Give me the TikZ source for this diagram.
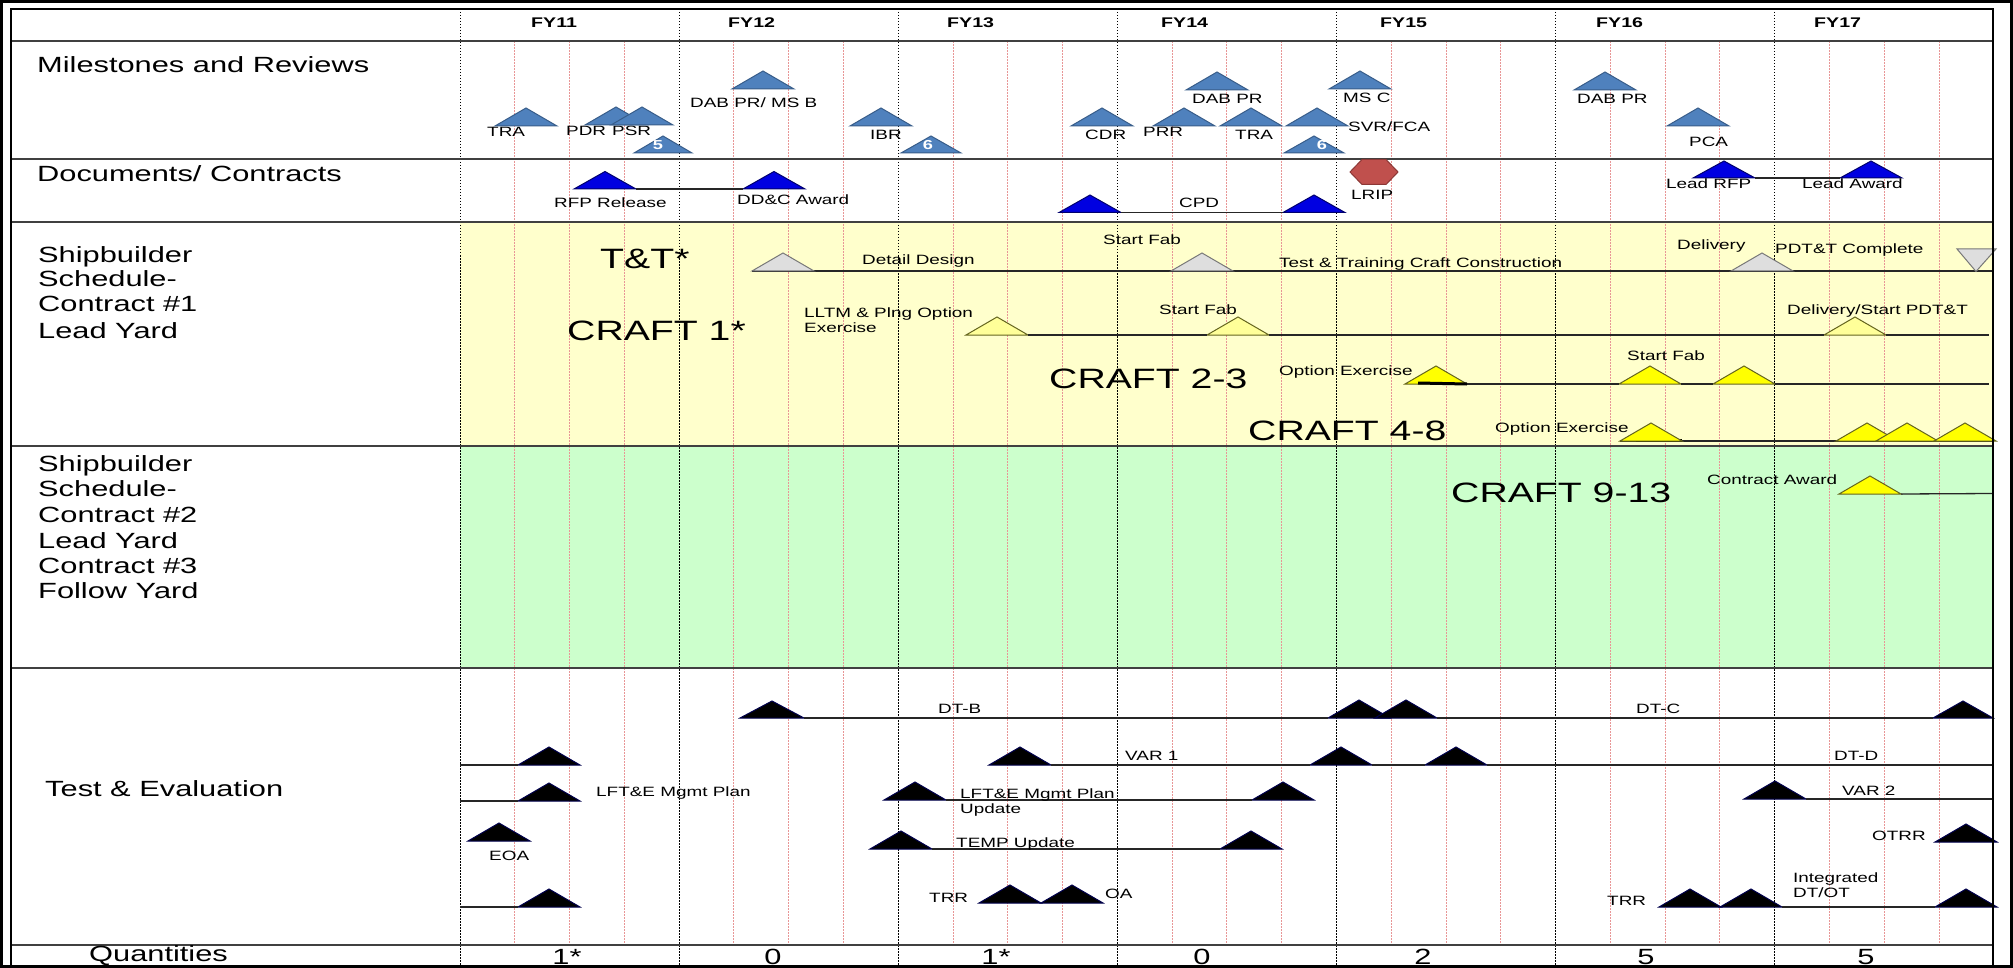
\documentclass[tikz,border=0pt]{standalone}
\usepackage{fontspec}
\setmainfont{Liberation Sans}[FakeStretch=1.4]
\definecolor{msfill}{RGB}{79,129,189}
\definecolor{msedge}{RGB}{56,93,138}
\definecolor{docblue}{RGB}{0,0,225}
\definecolor{docedge}{RGB}{0,0,110}
\definecolor{lripfill}{RGB}{192,80,77}
\definecolor{lripedge}{RGB}{140,56,54}
\definecolor{ttfill}{RGB}{222,222,222}
\definecolor{ttedge}{RGB}{120,120,120}
\definecolor{lyfill}{RGB}{255,255,153}
\definecolor{yfill}{RGB}{255,255,0}
\definecolor{yedge}{RGB}{100,100,30}
\definecolor{bgyellow}{RGB}{255,255,204}
\definecolor{bggreen}{RGB}{204,255,204}
\definecolor{gridred}{RGB}{232,150,150}
\definecolor{seccol}{RGB}{64,64,64}
\tikzset{
 ms/.style={fill=msfill, draw=msedge, line width=1},
 doc/.style={fill=docblue, draw=docedge, line width=1},
 tt/.style={fill=ttfill, draw=ttedge, line width=1},
 ly/.style={fill=lyfill, draw=yedge, line width=1},
 yy/.style={fill=yfill, draw=yedge, line width=1},
 te/.style={fill=black, draw=black!70!blue, line width=1},
 rowline/.style={draw=black!85, line width=1.3},
 secline/.style={draw=seccol, line width=2.5},
 yearline/.style={draw=black, line width=1, dash pattern=on 1.5pt off 1.5pt},
 redgrid/.style={draw=gridred, line width=0.9, dash pattern=on 2pt off 1pt},
 seclbl/.style={font=\fontsize{22}{26}\selectfont, anchor=base west, inner sep=0},
 big/.style={font=\fontsize{28}{32}\selectfont, anchor=base west, inner sep=0},
 sm/.style={font=\fontsize{13.5}{16}\selectfont, anchor=base west, inner sep=0},
 fy/.style={font=\bfseries\fontsize{14}{16}\selectfont, anchor=base west, inner sep=0},
 qty/.style={font=\fontsize{22}{26}\selectfont, anchor=base, inner sep=0},
 num/.style={font=\bfseries\fontsize{13}{15}\selectfont, text=white, inner sep=0},
}
% triangle: name, center x, base y, half width, height, style
\newcommand{\mtri}[6]{%
 \coordinate (#1-l) at ({#2-#4},#3);
 \coordinate (#1-r) at ({#2+#4},#3);
 \coordinate (#1-t) at (#2,{#3-#5});
 \path[#6] (#1-l) -- (#1-t) -- (#1-r) -- cycle;
}
\newcommand{\tg}[4]{\mtri{#1}{#2}{#3}{31}{18}{#4}}
\begin{document}
\begin{tikzpicture}[x=1pt,y=-1pt]
\useasboundingbox (0,0) rectangle (2013,968);
\fill[white] (0,0) rectangle (2013,968);
% background bands
\fill[bgyellow] (460,222) rectangle (1993,446);
\fill[bggreen] (460,446) rectangle (1993,668);
% grid
\foreach \k in {0,...,6}{\foreach \j in {1,2,3}{\draw[redgrid] ({460+219.1*\k+54.78*\j},41) -- ({460+219.1*\k+54.78*\j},945);}}
\foreach \k in {0,...,6}{\draw[yearline] ({460+219.1*\k},9) -- ({460+219.1*\k},966);}
% section lines
\foreach \yy in {41,159,222,446,668,945}{\draw[secline] (11,\yy) -- (1993,\yy);}
% header
\node[fy] (fy11) at (531,28) {FY11};
\node[fy] (fy12) at (728,28) {FY12};
\node[fy] (fy13) at (947,28) {FY13};
\node[fy] (fy14) at (1161,28) {FY14};
\node[fy] (fy15) at (1380,28) {FY15};
\node[fy] (fy16) at (1596,28) {FY16};
\node[fy] (fy17) at (1814,28) {FY17};
% left labels
\node[seclbl] (s1) at (37,73) {Milestones and Reviews};
\node[seclbl] (s2) at (37,182) {Documents/ Contracts};
\node[seclbl] (s3a) at (38,263) {Shipbuilder};
\node[seclbl] (s3b) at (38,287) {Schedule-};
\node[seclbl] (s3c) at (38,312) {Contract \#1};
\node[seclbl] (s3d) at (38,338) {Lead Yard};
\node[seclbl] (s4a) at (38,471) {Shipbuilder};
\node[seclbl] (s4b) at (38,496) {Schedule-};
\node[seclbl] (s4c) at (38,522) {Contract \#2};
\node[seclbl] (s4d) at (38,548) {Lead Yard};
\node[seclbl] (s4e) at (38,573) {Contract \#3};
\node[seclbl] (s4f) at (38,598) {Follow Yard};
\node[seclbl] (s5) at (45,796) {Test \& Evaluation};
\node[seclbl] (s6) at (89,961) {Quantities};
% ===== Milestones and Reviews =====
\node[sm] (ltra1) at (487,137) {TRA};
\node[sm] (lpdr) at (566,136) {PDR};
\node[sm] (lpsr) at (612,136) {PSR};
\tg{tra1}{526}{126}{ms}
\tg{pdr}{616}{125}{ms}
\tg{psr}{642}{125}{ms}
\mtri{mfive}{663}{153}{29}{17}{ms}
\node[num] (n5) at (658,145) {5};
\tg{dab1}{763}{89}{ms}
\node[sm] (ldab1) at (690,108) {DAB PR/ MS B};
\tg{ibr}{881}{126}{ms}
\node[sm] (libr) at (870,140) {IBR};
\mtri{msixa}{931}{153}{30}{17}{ms}
\node[num] (n6a) at (928,145) {6};
\tg{cdr}{1102}{126}{ms}
\node[sm] (lcdr) at (1085,140) {CDR};
\tg{prr}{1184}{126}{ms}
\node[sm] (lprr) at (1143,137) {PRR};
\tg{tra2}{1251}{126}{ms}
\node[sm] (ltra2) at (1235,140) {TRA};
\tg{dab2}{1217}{90}{ms}
\node[sm] (ldab2) at (1192,104) {DAB PR};
\tg{svr}{1317}{126}{ms}
\node[sm] (lsvr) at (1348,132) {SVR/FCA};
\mtri{msixb}{1314}{153}{30}{17}{ms}
\node[num] (n6b) at (1322,145) {6};
\tg{msc}{1360}{89}{ms}
\node[sm] (lmsc) at (1343,103) {MS C};
\tg{dab3}{1605}{90}{ms}
\node[sm] (ldab3) at (1577,104) {DAB PR};
\tg{pca}{1698}{126}{ms}
\node[sm] (lpca) at (1689,147) {PCA};
% ===== Documents / Contracts =====
\mtri{rfp}{605}{189}{31}{17.5}{doc}
\mtri{ddc}{774}{189}{31}{17.5}{doc}
\draw[rowline] (rfp-r) -- (ddc-l);
\node[sm] (lrfp) at (554,208) {RFP Release};
\node[sm] (lddc) at (737,205) {DD\&C Award};
\mtri{cpda}{1090}{212.5}{31}{17.5}{doc}
\mtri{cpdb}{1314}{212.5}{31}{17.5}{doc}
\draw[rowline] (cpda-r) -- (cpdb-l);
\node[sm] (lcpd) at (1179,208) {CPD};
\coordinate (lrip) at (1374,172);
\path[fill=lripfill, draw=lripedge, line width=1] (1350,172) -- (1362,159.5) -- (1386,159.5) -- (1398,172) -- (1386,184.5) -- (1362,184.5) -- cycle;
\node[sm] (llrip) at (1351,200) {LRIP};
\mtri{lrf}{1724}{178}{31}{17}{doc}
\mtri{law}{1871}{178}{31}{17}{doc}
\draw[rowline] (lrf-r) -- (law-l);
\node[sm] (llrf) at (1666,189) {Lead RFP};
\node[sm] (llaw) at (1802,189) {Lead Award};
% ===== Shipbuilder Contract #1 =====
\node[big] (ltt) at (600,269) {T\&T*};
\node[big] (lc1) at (567,341) {CRAFT 1*};
\node[big] (lc23) at (1049,388) {CRAFT 2-3};
\node[big] (lc48) at (1248,440) {CRAFT 4-8};
% T&T row
\coordinate (ttend) at (1993,271);
\draw[rowline] (752,271) coordinate (ttstart) -- (ttend);
\tg{tta}{783}{271}{tt}
\tg{ttb}{1202}{271}{tt}
\tg{ttc}{1762}{271}{tt}
\coordinate (ttd-a) at (1957,249);
\coordinate (ttd-b) at (1996,249);
\coordinate (ttd-c) at (1976,271.5);
\path[tt] (ttd-a) -- (ttd-b) -- (ttd-c) -- cycle;
\node[sm] (ldd) at (862,265) {Detail Design};
\node[sm] (lsf1) at (1103,245) {Start Fab};
\node[sm] (lttc) at (1279,268) {Test \& Training Craft Construction};
\node[sm] (ldel) at (1677,250) {Delivery};
\node[sm] (lpdt) at (1775,254) {PDT\&T Complete};
% CRAFT 1 row
\tg{ca}{997}{335}{ly}
\tg{cb}{1238}{335}{ly}
\tg{cc}{1855}{335}{ly}
\coordinate (c1end) at (1989,335);
\draw[rowline] (ca-r) -- (cb-l) (cb-r) -- (cc-l) (cc-r) -- (c1end);
\node[sm] (lllt) at (804,318) {LLTM \& Plng Option};
\node[sm] (lexe) at (804,333) {Exercise};
\node[sm] (lsf2) at (1159,315) {Start Fab};
\node[sm] (ldsp) at (1787,315) {Delivery/Start PDT\&T};
% CRAFT 2-3 row
\tg{da}{1436}{384}{yy}
\tg{db}{1650}{384}{yy}
\tg{dc}{1744}{384}{yy}
\coordinate (c2end) at (1989,384);
\draw[rowline] (da-r) -- (db-l) (db-r) -- (dc-l) (dc-r) -- (c2end);
\draw[black, line width=3] (1418,383) -- (da-r);
\node[sm] (loe1) at (1279,375) {Option Exercise};
\node[sm] (lsf3) at (1627,360) {Start Fab};
% CRAFT 4-8 row
\coordinate (c4end) at (1993,441);
\draw[rowline] (1620,441) -- (c4end);
\draw[black, line width=3] (1636,440) -- (1682,440);
\tg{ea}{1651}{441}{yy}
\tg{eb}{1867}{441}{yy}
\tg{ec}{1907}{441}{yy}
\tg{ed}{1965}{441}{yy}
\node[sm] (loe2) at (1495,432) {Option Exercise};
% ===== Shipbuilder Contract #2/#3 =====
\node[big] (lc913) at (1451,502) {CRAFT 9-13};
\tg{fa}{1870}{494}{yy}
\coordinate (c9end) at (1993,493.5);
\draw[rowline] (fa-r) -- (c9end);
\node[sm] (lca) at (1707,484) {Contract Award};
% ===== Test & Evaluation =====
% DT row
\mtri{dtb}{772}{718}{32}{17}{te}
\tg{dtca}{1359}{718}{te}
\tg{dtcb}{1406}{718}{te}
\mtri{dtcc}{1963}{718}{30}{17}{te}
\draw[rowline] (dtb-r) -- (dtca-l) (dtcb-r) -- (dtcc-l);
\node[sm] (ldtb) at (938,713) {DT-B};
\node[sm] (ldtc) at (1636,713) {DT-C};
% VAR 1 row
\coordinate (va0) at (460,765);
\coordinate (vaend) at (1993,765);
\tg{vt}{549}{765}{te}
\draw[rowline] (va0) -- (vt-l);
\tg{vaa}{1020}{765}{te}
\tg{vab}{1341}{765}{te}
\tg{vac}{1456}{765}{te}
\draw[rowline] (vaa-r) -- (vab-l) (vab-r) -- (vac-l) (vac-r) -- (vaend);
\node[sm] (lvar1) at (1125,760) {VAR 1};
\node[sm] (ldtd) at (1834,760) {DT-D};
% LFT&E row
\coordinate (lf0) at (460,801);
\tg{lt}{549}{801}{te}
\draw[rowline] (lf0) -- (lt-l);
\node[sm] (llft1) at (596,796) {LFT\&E Mgmt Plan};
\tg{lua}{915}{800}{te}
\tg{lub}{1283}{800}{te}
\draw[rowline] (lua-r) -- (lub-l);
\node[sm] (llft2) at (960,798) {LFT\&E Mgmt Plan};
\node[sm] (lupd) at (960,813) {Update};
\tg{vb}{1775}{799}{te}
\coordinate (vbend) at (1993,799);
\draw[rowline] (vb-r) -- (vbend);
\node[sm] (lvar2) at (1842,795) {VAR 2};
% TEMP row
\tg{eoa}{499}{841}{te}
\node[sm] (leoa) at (489,860) {EOA};
\tg{tpa}{901}{849}{te}
\tg{tpb}{1251}{849}{te}
\draw[rowline] (tpa-r) -- (tpb-l);
\node[sm] (ltemp) at (956,847) {TEMP Update};
\tg{otrr}{1966}{842}{te}
\node[sm] (lotrr) at (1872,840) {OTRR};
% TRR row
\coordinate (tr0) at (460,907);
\tg{tt3}{549}{907}{te}
\draw[rowline] (tr0) -- (tt3-l);
\tg{tra}{1010}{903}{te}
\tg{trb}{1072}{903}{te}
\node[sm] (ltrr1) at (929,902) {TRR};
\node[sm] (loa) at (1105,898) {OA};
\tg{trc}{1690}{907}{te}
\tg{trd}{1751}{907}{te}
\tg{tre}{1966}{907}{te}
\draw[rowline] (trd-r) -- (tre-l);
\node[sm] (ltrr2) at (1607,905) {TRR};
\node[sm] (lint) at (1793,882) {Integrated};
\node[sm] (ldtot) at (1793,897) {DT/OT};
% quantities
\node[qty] (q11) at (567,964) {1*};
\node[qty] (q12) at (773,964) {0};
\node[qty] (q13) at (996,964) {1*};
\node[qty] (q14) at (1202,964) {0};
\node[qty] (q15) at (1423,964) {2};
\node[qty] (q16) at (1646,964) {5};
\node[qty] (q17) at (1866,964) {5};
% frames
\draw[line width=2.5] (11,9) rectangle (1993,966);
\draw[line width=3] (1.5,1.5) rectangle (2011.5,966.5);
\end{tikzpicture}
\end{document}
